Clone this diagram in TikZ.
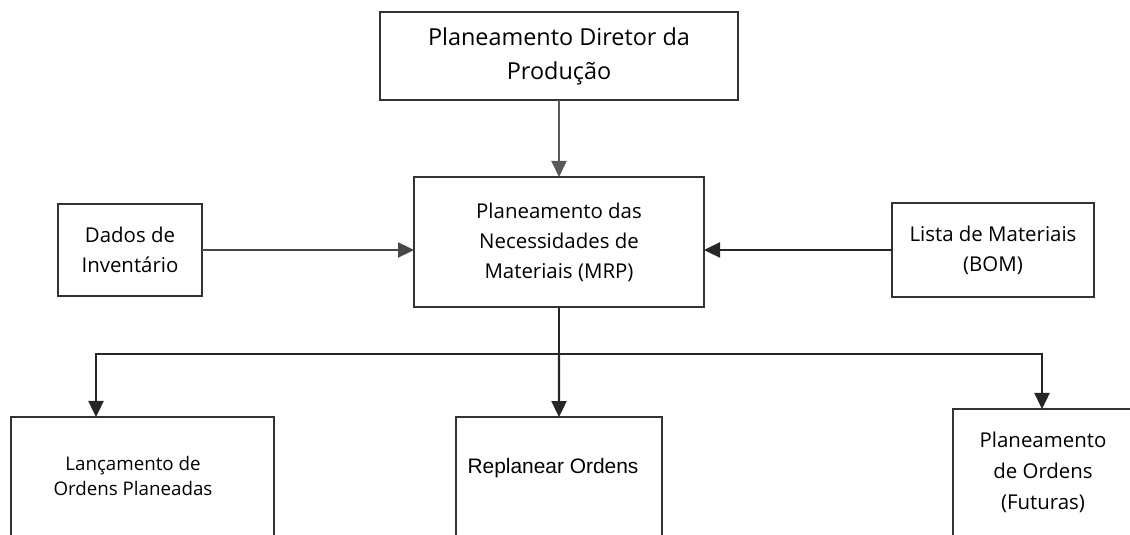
\documentclass[tikz,border=0pt]{standalone}
\usepackage{fontspec}
\setmainfont{Open Sans}
\newfontfamily\arialfont{Liberation Sans}
\usetikzlibrary{arrows.meta}
\begin{document}
\begin{tikzpicture}[x=1bp,y=-1bp,
  box/.style={draw=black!80, line width=2.6bp, fill=white, inner sep=0pt, outer sep=0pt, align=center, text=black},
  lbl/.style={align=center, text=black, inner sep=0pt},
  wire/.style={draw=black!85, line width=2.4bp},
  conn/.style={wire, -{Triangle[length=16bp,width=15bp]}},
]
\useasboundingbox (0,0) rectangle (1130,535);
\clip (0,0) rectangle (1130,535);

% top
\node[box, minimum width=358bp, minimum height=88bp, font=\fontsize{23.5}{34}\selectfont] (pdp) at (559,56) {Planeamento Diretor da\\Produção};
% MRP
\node[box, minimum width=290bp, minimum height=130bp, font=\fontsize{20.5}{30}\selectfont] (mrp) at (559,242) {Planeamento das\\Necessidades de\\Materiais (MRP)};
% side inputs
\node[box, minimum width=144bp, minimum height=92bp, font=\fontsize{20.5}{30}\selectfont] (dados) at (130,250) {Dados de\\Inventário};
\node[box, minimum width=202bp, minimum height=94bp, font=\fontsize{20.5}{30}\selectfont] (lista) at (993,250) {Lista de Materiais\\(BOM)};

% bottom boxes (cut by the lower edge)
\node[box, minimum width=263bp, minimum height=200bp, anchor=north west] (lanc) at (11,417) {};
\node[lbl, font=\fontsize{18.8}{26}\selectfont] (lanct) at (133,476) {Lançamento de\\Ordens Planeadas};
\node[box, minimum width=206bp, minimum height=200bp, anchor=north west] (repl) at (456,417) {};
\node[lbl, font=\arialfont\fontsize{21}{26}\selectfont] (replt) at (553,468) {Replanear Ordens};
\node[box, minimum width=200bp, minimum height=200bp, anchor=north west] (fut) at (953,409) {};
\node[lbl, font=\fontsize{20.5}{31}\selectfont] (futt) at (1043,472) {Planeamento\\de Ordens\\(Futuras)};

% connectors
\draw[conn, draw=black!65, line width=2bp] (pdp.south) -- (mrp.north);
\draw[conn, draw=black!72] (dados.east) -- (mrp.west |- dados.east);
\draw[conn] (lista.west) -- (mrp.east |- lista.west);
\coordinate (bus) at (559,354);
\draw[wire] (mrp.south) -- (bus);
\draw[conn] (bus) -- (repl.north);
\draw[conn] (bus) -| ([xshift=-46.5bp]lanc.north);
\draw[conn] (bus) -| ([xshift=-11bp]fut.north);
\end{tikzpicture}
\end{document}
